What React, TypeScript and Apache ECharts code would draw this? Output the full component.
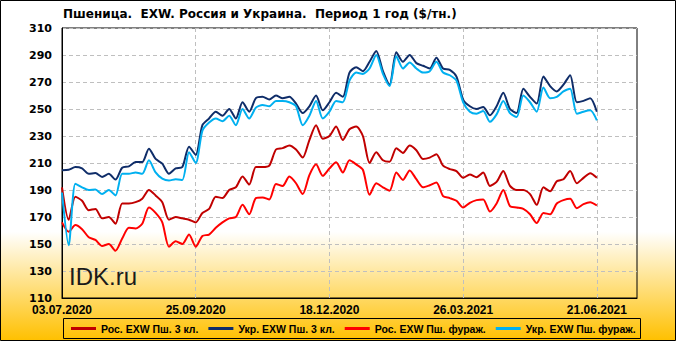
import React, { useEffect, useRef } from "react";
import * as echarts from "echarts";

const tickLabels = ["03.07.2020", "25.09.2020", "18.12.2020", "26.03.2021", "21.06.2021"];
const pointsPerLabel = 20;
const categoryCount = 87;

const seriesNames = ["Рос. EXW Пш. 3 кл.", "Укр. EXW Пш. 3 кл.", "Рос. EXW Пш. фураж.", "Укр. EXW Пш. фураж."];
const seriesColors = ["#C00000", "#0F2D69", "#FF0000", "#00B0F0"];

const ros3 = [
  192, 168, 185, 182, 175, 176, 169, 170, 165, 180,
  180, 181, 183.6, 190, 186, 181, 168, 170, 169, 168,
  166, 173, 176, 185, 184, 190, 192, 200, 194, 207,
  207, 208, 220, 221, 223, 220, 214, 227, 238, 228,
  230, 237, 227, 235, 237, 230, 210, 218, 212, 211,
  221, 217.5, 223, 219.5, 213, 214, 216.5, 208, 205.5, 204,
  199, 201.5, 199.5, 203, 193, 196, 204, 193, 190, 190,
  187, 179, 192, 189, 196.5, 198, 204, 195, 199, 202.5,
  199,
];

const ukr3 = [
  204.6, 205, 207, 206, 202, 202.6, 199.7, 202, 197.7, 206.5,
  207.5, 210.7, 210.7, 220.6, 213, 209.5, 202, 206, 207, 222,
  216, 238, 243, 248, 245, 250, 243, 255, 248, 258,
  259, 257, 260, 258, 259, 254, 247, 252, 260, 249,
  255, 262, 259, 277, 281, 278, 285, 293, 278, 268,
  292, 285, 290, 284, 282, 280, 288, 280, 279, 274,
  257, 252, 250, 251.5, 245.3, 252, 262, 250, 247, 265,
  259, 254, 274, 267, 263, 268, 275, 255, 256, 258,
  248,
];

const rosF = [
  166, 159, 164, 161, 155, 153, 148.5, 150, 145, 154,
  162, 161.5, 165, 177, 173, 166, 148, 152, 150, 157,
  148, 156, 157, 162, 166, 169, 170, 179, 172, 184,
  184.5, 183, 194.5, 193, 200, 195, 187, 201, 209, 200.5,
  206, 210.5, 203, 212, 209, 205, 186.4, 195, 192, 189.5,
  203, 197.5, 204.5, 198, 192, 193.5, 195.5, 185.5, 184, 182,
  177, 180.5, 182.5, 183, 174, 180, 190, 178, 177, 176,
  172, 165.5, 173, 172, 180, 182.5, 183.5, 176.5, 179.5, 181,
  178.5,
];

const ukrF = [
  188, 149, 194.7, 192, 190, 190.3, 187, 190, 186, 202,
  202, 203, 202, 212, 203, 198.4, 197, 198, 197.5, 218,
  210, 234, 240, 243, 241, 245, 238, 250, 243, 251,
  253, 252, 256, 256, 255, 252, 238, 245, 256, 243,
  248, 256, 255, 271, 277, 276, 280, 290, 276, 267,
  289, 280, 284.5, 280, 277, 278, 285, 277, 275, 271,
  255, 248, 246.5, 248.5, 240.5, 246, 256, 247, 244, 260,
  255, 248, 266, 258, 259, 263, 265, 246.5, 248, 249,
  241.6,
];

const yMin = 110;
const yMax = 310;
const yStep = 20;

export default function App() {
  const ref = useRef<HTMLDivElement>(null);

  useEffect(() => {
    if (!ref.current) return;
    const chart = echarts.init(ref.current, undefined, { renderer: "svg" });
    const categories = Array.from({ length: categoryCount }, (_, i) => String(i));
    const allSeries = [ros3, ukr3, rosF, ukrF];

    chart.setOption({
      animation: false,
      title: {
        text: "Пшеница.  EXW. Россия и Украина.  Период 1 год ($/тн.)",
        left: 63,
        top: 8,
        padding: 0,
        textStyle: { fontFamily: "DejaVu Sans", fontWeight: "bold", fontSize: 12, color: "#000" },
      },
      graphic: [
        {
          type: "rect",
          z: -10,
          silent: true,
          shape: { x: 0.5, y: 0.5, width: 675, height: 340 },
          style: {
            fill: new echarts.graphic.LinearGradient(0, 0, 0, 1, [
              { offset: 0, color: "#FFFFFF" },
              { offset: 0.68, color: "#FFFFFF" },
              { offset: 1, color: "#FFC000" },
            ]),
            stroke: "#000",
            lineWidth: 1,
          },
        },
        {
          type: "rect",
          z: 5,
          silent: true,
          shape: { x: 63.5, y: 318.5, width: 577, height: 20 },
          style: { fill: "none", stroke: "#000", lineWidth: 1 },
        },
        {
          type: "text",
          z: 5,
          silent: true,
          style: {
            text: "IDK.ru",
            x: 69,
            y: 264,
            font: '24px "Liberation Sans"',
            fill: "#1A1A1A",
          },
        },
      ],
      legend: {
        top: 323,
        left: 71,
        padding: 0,
        icon: "rect",
        itemWidth: 25,
        itemHeight: 3,
        itemGap: 10,
        data: seriesNames,
        textStyle: { fontFamily: "Liberation Sans", fontWeight: "bold", fontSize: 10.5, color: "#000" },
      },
      grid: {
        left: 62,
        right: 39,
        top: 28,
        bottom: 43,
        show: true,
        borderColor: "#000",
        borderWidth: 1,
        backgroundColor: "transparent",
      },
      xAxis: {
        type: "category",
        data: categories,
        boundaryGap: false,
        axisLine: { lineStyle: { color: "#000", width: 1 } },
        axisTick: { show: false },
        axisLabel: {
          interval: pointsPerLabel - 1,
          margin: 6,
          fontFamily: "Liberation Sans",
          fontWeight: "bold",
          fontSize: 12,
          color: "#000",
          formatter: (_v: string, idx: number) =>
            idx % pointsPerLabel === 0 ? tickLabels[idx / pointsPerLabel] ?? "" : "",
        },
        splitLine: {
          show: true,
          interval: pointsPerLabel - 1,
          lineStyle: { color: "#BFBFBF", type: [4, 3], width: 1 },
        },
      },
      yAxis: {
        type: "value",
        min: yMin,
        max: yMax,
        interval: yStep,
        axisLine: { show: true, lineStyle: { color: "#000", width: 1 } },
        axisTick: { show: false },
        axisLabel: {
          margin: 10,
          fontFamily: "DejaVu Sans",
          fontWeight: "bold",
          fontSize: 11,
          color: "#000",
        },
        splitLine: { show: true, lineStyle: { color: "#BFBFBF", type: [4, 3], width: 1 } },
      },
      series: allSeries.map((d, k) => ({
        name: seriesNames[k],
        type: "line",
        data: d,
        showSymbol: false,
        smooth: 0.25,
        color: seriesColors[k],
        lineStyle: { color: seriesColors[k], width: 2 },
      })),
    });

    return () => chart.dispose();
  }, []);

  return (
    <div
      ref={ref}
      style={{ position: "absolute", left: 0, top: 0, width: 676, height: 341 }}
    />
  );
}
